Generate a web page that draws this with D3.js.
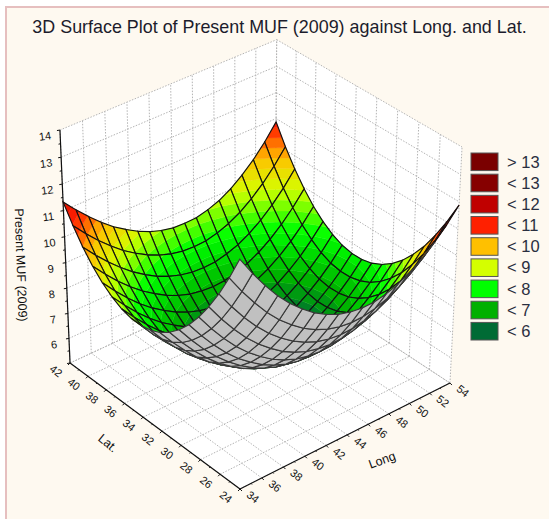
<!DOCTYPE html>
<html>
<head>
<meta charset="utf-8">
<script src="https://cdnjs.cloudflare.com/ajax/libs/d3/7.8.5/d3.min.js"></script>
<style>
  html, body { margin: 0; padding: 0; background: #fff; }
  text { font-family: "Liberation Sans", Arial, sans-serif; }
</style>
</head>
<body>
<div id="chart"></div>
<script>
const chartTitle = '3D Surface Plot of Present MUF (2009) against Long. and Lat.'
const longValues = [34,35.11,36.22,37.33,38.44,39.56,40.67,41.78,42.89,44,45.11,46.22,47.33,48.44,49.56,50.67,51.78,52.89,54]
const latValues = [24,25,26,27,28,29,30,31,32,33,34,35,36,37,38,39,40,41,42]
const longTicks = [34,36,38,40,42,44,46,48,50,52,54]
const latTicks = [24,26,28,30,32,34,36,38,40,42]
const mufTicks = [6,7,8,9,10,11,12,13,14]
const legendLabels = ['> 13','< 13','< 12','< 11','< 10','< 9','< 8','< 7','< 6']
const legendColors = ['#7a0000','#860000','#c00000','#ff2000','#ffc000','#d4ff00','#00ff00','#00b000','#006b35']
const colorStops = [5.8,6.6,7.8,8.9,9.8,10.7,12,13,14]
const stopColors = ['#006b35','#00b000','#00ff00','#d4ff00','#ffc000','#ff2000','#c00000','#860000','#7a0000']

// one row per latitude (24 -> 42), one value per longitude (34 -> 54)
const muf = [
  [13.62,12.90,12.25,11.67,11.17,10.75,10.39,10.11,9.90,9.77,9.71,9.72,9.81,9.97,10.21,10.52,10.90,11.35,11.88],
  [12.70,12.00,11.37,10.80,10.31,9.90,9.55,9.28,9.08,8.95,8.89,8.91,9.00,9.15,9.39,9.70,10.07,10.51,11.03],
  [11.87,11.19,10.57,10.02,9.54,9.14,8.80,8.54,8.34,8.22,8.16,8.18,8.27,8.42,8.66,8.96,9.33,9.76,10.28],
  [11.14,10.47,9.87,9.33,8.87,8.48,8.14,7.89,7.69,7.58,7.52,7.54,7.63,7.78,8.02,8.31,8.68,9.11,9.61],
  [10.50,9.85,9.26,8.73,8.28,7.90,7.57,7.32,7.13,7.02,6.97,6.99,7.08,7.23,7.46,7.76,8.12,8.54,9.05],
  [9.95,9.32,8.74,8.22,7.78,7.41,7.09,6.85,6.66,6.55,6.51,6.52,6.61,6.77,7.00,7.29,7.65,8.07,8.57],
  [9.50,8.88,8.31,7.81,7.38,7.01,6.70,6.46,6.28,6.17,6.13,6.15,6.24,6.39,6.62,6.91,7.27,7.69,8.19],
  [9.14,8.53,7.98,7.49,7.06,6.71,6.40,6.16,5.99,5.88,5.84,5.86,5.95,6.11,6.33,6.63,6.98,7.40,7.90],
  [8.87,8.28,7.74,7.25,6.84,6.49,6.19,5.95,5.78,5.68,5.64,5.66,5.75,5.91,6.13,6.43,6.78,7.21,7.70],
  [8.70,8.12,7.59,7.11,6.70,6.36,6.06,5.84,5.67,5.57,5.53,5.55,5.64,5.80,6.02,6.32,6.68,7.10,7.60],
  [8.62,8.05,7.53,7.06,6.66,6.32,6.03,5.80,5.64,5.54,5.50,5.52,5.62,5.77,6.00,6.30,6.66,7.09,7.59],
  [8.63,8.07,7.56,7.10,6.71,6.37,6.08,5.86,5.70,5.60,5.56,5.59,5.68,5.84,6.07,6.37,6.73,7.16,7.67],
  [8.74,8.19,7.69,7.24,6.84,6.52,6.23,6.01,5.85,5.75,5.71,5.74,5.83,5.99,6.23,6.53,6.90,7.33,7.85],
  [8.94,8.40,7.90,7.46,7.07,6.75,6.46,6.25,6.08,5.99,5.95,5.98,6.08,6.24,6.47,6.78,7.15,7.60,8.12],
  [9.23,8.70,8.21,7.77,7.39,7.07,6.79,6.57,6.41,6.31,6.28,6.30,6.40,6.57,6.81,7.12,7.50,7.95,8.48],
  [9.61,9.09,8.61,8.18,7.80,7.48,7.20,6.98,6.82,6.73,6.69,6.72,6.82,6.99,7.23,7.54,7.93,8.39,8.94],
  [10.09,9.58,9.11,8.68,8.30,7.98,7.70,7.49,7.33,7.23,7.20,7.22,7.33,7.49,7.74,8.06,8.46,8.93,9.49],
  [10.67,10.16,9.69,9.27,8.89,8.57,8.30,8.08,7.92,7.82,7.79,7.81,7.92,8.09,8.34,8.67,9.07,9.56,10.13],
  [11.33,10.83,10.37,9.95,9.57,9.26,8.98,8.76,8.60,8.50,8.48,8.49,8.60,8.77,9.03,9.37,9.78,10.28,10.87]
]

const width = 549, height = 519
const svg = d3.select('#chart').append('svg')
  .attr('width', width).attr('height', height)
  .style('display', 'block')

svg.append('rect').attr('x', 6).attr('y', 7).attr('width', 600).attr('height', 600)
  .attr('fill', '#fef9f0').attr('stroke', '#e6bfbf').attr('stroke-width', 2)

svg.append('text').attr('x', 279.5).attr('y', 33).attr('text-anchor', 'middle')
  .style('font-size', '17.9px').attr('fill', '#1c1c2c').text(chartTitle)

const ux = d3.scaleLinear().domain([34, 54]).range([0, 1])
const vy = d3.scaleLinear().domain([24, 42]).range([0, 1])
const wz = d3.scaleLinear().domain([5, 14]).range([0, 1])

// perspective camera fitted on the box corners of the picture
const project = (long, lat, z) => {
  const u = ux(long), v = vy(lat), w = wz(z)
  const d = 1 + 0.0443 * u + 0.0622 * v - 0.058 * w
  return [
    (240 + 229.9 * u - 165.6 * v - 14.2 * w) / d,
    (489 - 89 * u - 103.4 * v - 255 * w) / d
  ]
}
const line3d = pts => 'M' + pts.map(p => project(p[0], p[1], p[2]).join(',')).join('L')
const closed3d = pts => line3d(pts) + 'Z'

const [longMin, longMax] = ux.domain()
const [latMin, latMax] = vy.domain()
const [zMin, zMax] = wz.domain()
const zGrid = [zMin].concat(mufTicks)

// walls and floor
const panels = svg.append('g')
panels.selectAll('path').data([
  [[longMin,latMin,zMin],[longMax,latMin,zMin],[longMax,latMax,zMin],[longMin,latMax,zMin]],
  [[longMin,latMax,zMin],[longMax,latMax,zMin],[longMax,latMax,zMax],[longMin,latMax,zMax]],
  [[longMax,latMin,zMin],[longMax,latMax,zMin],[longMax,latMax,zMax],[longMax,latMin,zMax]]
]).enter().append('path').attr('d', closed3d).attr('fill', '#fff')

const gridLines = []
longTicks.forEach(l => {
  gridLines.push([[l,latMin,zMin],[l,latMax,zMin]])
  gridLines.push([[l,latMax,zMin],[l,latMax,zMax]])
})
latTicks.forEach(l => {
  gridLines.push([[longMin,l,zMin],[longMax,l,zMin]])
  gridLines.push([[longMax,l,zMin],[longMax,l,zMax]])
})
zGrid.forEach(z => {
  gridLines.push([[longMin,latMax,z],[longMax,latMax,z]])
  gridLines.push([[longMax,latMax,z],[longMax,latMin,z]])
})
svg.append('g').selectAll('path').data(gridLines).enter().append('path')
  .attr('d', line3d).attr('fill', 'none')
  .attr('stroke', '#b4b4b4').attr('stroke-width', 1).attr('stroke-dasharray', '1.5 1.5')

// axes
const axisG = svg.append('g').attr('stroke', '#111').attr('fill', 'none')
const axisPaths = [
  [[longMin,latMax,zMax],[longMin,latMax,zMin]],
  [[longMin,latMax,zMin],[longMin,latMin,zMin]],
  [[longMin,latMin,zMin],[longMax,latMin,zMin]]
]
axisG.selectAll('path.axis').data(axisPaths).enter().append('path')
  .attr('class', 'axis').attr('d', line3d).attr('stroke-width', 1.2)

const tickMark = (p, dx, dy) => {
  const [x, y] = project(p[0], p[1], p[2])
  axisG.append('line').attr('x1', x).attr('y1', y).attr('x2', x + dx).attr('y2', y + dy)
}
d3.range(zMin, zMax + 0.01, 0.5).forEach((z, i) => tickMark([longMin,latMax,z], i % 2 ? -2 : -3, 0.5))
d3.range(latMin, latMax + 0.01, 1).forEach((l, i) => tickMark([longMin,l,zMin], i % 2 ? -1 : -2, i % 2 ? 1 : 2))
d3.range(longMin, longMax + 0.01, 1).forEach((l, i) => tickMark([l,latMin,zMin], i % 2 ? 1 : 2, i % 2 ? 1 : 2))

const tickLabel = (s, p, dx, dy, angle, size) => {
  const [x, y] = project(p[0], p[1], p[2])
  svg.append('text')
    .attr('transform', `translate(${x + dx},${y + dy}) rotate(${angle})`)
    .attr('text-anchor', 'middle').attr('dy', '0.35em')
    .style('font-size', size + 'px').attr('fill', '#111').text(s)
}
mufTicks.forEach(z => tickLabel(z, [longMin,latMax,z], -15, 6, -8, 11))
latTicks.forEach(l => tickLabel(l, [longMin,l,zMin], -14, 8, 38, 11))
longTicks.forEach(l => tickLabel(l, [l,latMin,zMin], 13, 8, 38, 11))

svg.append('text').attr('transform', 'translate(382,460) rotate(-20)').attr('text-anchor', 'middle')
  .attr('dy', '0.35em').style('font-size', '12.5px').attr('fill', '#111').text('Long')
svg.append('text').attr('transform', 'translate(108,443) rotate(40)').attr('text-anchor', 'middle')
  .attr('dy', '0.35em').style('font-size', '12.5px').attr('fill', '#111').text('Lat.')
svg.append('text').attr('transform', 'translate(21,265) rotate(88)').attr('text-anchor', 'middle')
  .attr('dy', '0.35em').style('font-size', '12.5px').attr('fill', '#111').text('Present MUF (2009)')

// surface
const color = d3.scaleLinear().domain(colorStops).range(stopColors).clamp(true)
const bandStep = 0.3
const bandEdges = d3.range(5, 14.01, bandStep)

const clipZ = (poly, limit, keepAbove) => {
  const out = []
  poly.forEach((p, i) => {
    const q = poly[(i + 1) % poly.length]
    const pIn = keepAbove ? p[2] >= limit : p[2] <= limit
    const qIn = keepAbove ? q[2] >= limit : q[2] <= limit
    if (pIn) out.push(p)
    if (pIn !== qIn) {
      const t = (limit - p[2]) / (q[2] - p[2])
      out.push([p[0] + t * (q[0] - p[0]), p[1] + t * (q[1] - p[1]), limit])
    }
  })
  return out
}
const screenArea = poly => d3.polygonArea(poly.map(p => project(p[0], p[1], p[2])))
const topSign = Math.sign(screenArea([[longMin,latMin,zMin],[longMax,latMin,zMin],[longMax,latMax,zMin],[longMin,latMax,zMin]]))

const surface = svg.append('g')
// back corner first, front corner last
for (let j = latValues.length - 2; j >= 0; j--) {
  for (let i = longValues.length - 2; i >= 0; i--) {
    const quad = [
      [longValues[i], latValues[j], muf[j][i]],
      [longValues[i + 1], latValues[j], muf[j][i + 1]],
      [longValues[i + 1], latValues[j + 1], muf[j + 1][i + 1]],
      [longValues[i], latValues[j + 1], muf[j + 1][i]]
    ]
    const isTop = Math.sign(screenArea(quad)) === topSign
    if (isTop) {
      const zs = quad.map(p => p[2])
      bandEdges.forEach(low => {
        const high = low + bandStep
        if (d3.max(zs) < low || d3.min(zs) > high) return
        const piece = clipZ(clipZ(quad, low, true), high, false)
        if (piece.length < 3) return
        const c = color(low + bandStep / 2)
        surface.append('path').attr('d', closed3d(piece)).attr('fill', c).attr('stroke', c).attr('stroke-width', 0.4)
      })
    } else {
      surface.append('path').attr('d', closed3d(quad)).attr('fill', '#c0c0c0')
    }
    surface.append('path').attr('d', closed3d(quad)).attr('fill', 'none')
      .attr('stroke', isTop ? '#111' : '#383838').attr('stroke-width', 1.15)
  }
}

// legend
const legendY = d3.scaleBand().domain(legendLabels).range([153, 340]).paddingInner(0.17)
const legendRow = svg.append('g').selectAll('g').data(legendLabels).enter().append('g')
  .attr('transform', d => `translate(0,${legendY(d)})`)
legendRow.append('rect').attr('x', 471).attr('width', 27).attr('height', legendY.bandwidth())
  .attr('fill', (d, i) => legendColors[i]).attr('stroke', '#555').attr('stroke-width', 1)
legendRow.append('text').attr('x', 507).attr('y', legendY.bandwidth() / 2).attr('dy', '0.35em')
  .style('font-size', '16.5px').attr('fill', '#2a2f40').text(d => d)
</script>
</body>
</html>
